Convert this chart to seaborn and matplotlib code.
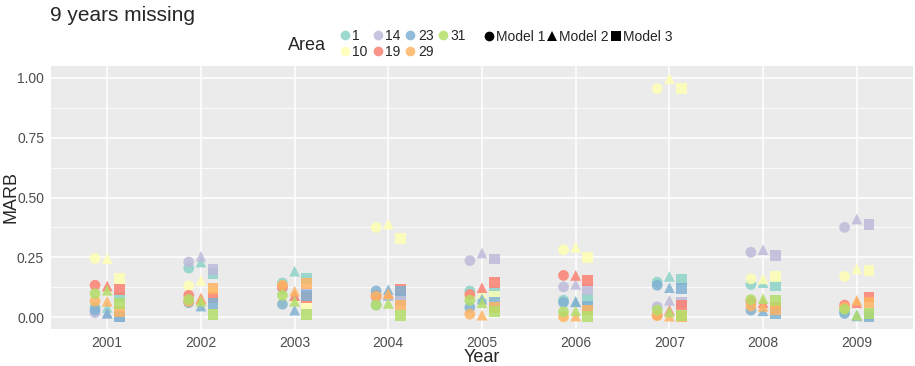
import numpy as np
import pandas as pd
import seaborn as sns
import matplotlib.pyplot as plt
from matplotlib.lines import Line2D

years = [2001, 2002, 2003, 2004, 2005, 2006, 2007, 2008, 2009]
areas = ['1', '10', '14', '19', '23', '29', '31']
models = ['Model 1', 'Model 2', 'Model 3']

# MARB per area, one list per model (values for 2001..2009)
area_1 = [[0.040, 0.205, 0.142, 0.050, 0.109, 0.070, 0.146, 0.136, 0.025],
          [0.040, 0.230, 0.192, 0.090, 0.087, 0.065, 0.170, 0.144, 0.010],
          [0.084, 0.183, 0.160, 0.080, 0.105, 0.073, 0.156, 0.133, 0.010]]
area_10 = [[0.245, 0.130, 0.060, 0.375, 0.090, 0.281, 0.955, 0.160, 0.170],
           [0.245, 0.153, 0.080, 0.389, 0.100, 0.292, 0.997, 0.160, 0.202],
           [0.160, 0.100, 0.057, 0.327, 0.087, 0.248, 0.955, 0.170, 0.195]]
area_14 = [[0.018, 0.230, 0.120, 0.080, 0.236, 0.126, 0.043, 0.271, 0.375],
           [0.015, 0.254, 0.090, 0.090, 0.268, 0.137, 0.070, 0.282, 0.410],
           [0.003, 0.198, 0.100, 0.070, 0.243, 0.115, 0.060, 0.257, 0.386]]
area_19 = [[0.133, 0.091, 0.126, 0.090, 0.094, 0.174, 0.008, 0.065, 0.050],
           [0.130, 0.079, 0.090, 0.100, 0.123, 0.174, 0.029, 0.060, 0.060],
           [0.116, 0.082, 0.082, 0.115, 0.146, 0.154, 0.050, 0.040, 0.084]]
area_23 = [[0.029, 0.060, 0.054, 0.109, 0.040, 0.061, 0.133, 0.029, 0.015],
           [0.017, 0.046, 0.029, 0.115, 0.075, 0.064, 0.123, 0.026, 0.005],
           [0.000, 0.057, 0.090, 0.109, 0.060, 0.046, 0.118, 0.015, 0.000]]
area_29 = [[0.066, 0.065, 0.133, 0.087, 0.012, 0.001, 0.006, 0.046, 0.040],
           [0.066, 0.075, 0.108, 0.098, 0.008, 0.004, 0.004, 0.045, 0.070],
           [0.022, 0.119, 0.140, 0.050, 0.040, 0.029, 0.003, 0.033, 0.060]]
area_31 = [[0.098, 0.073, 0.091, 0.050, 0.070, 0.022, 0.029, 0.073, 0.032],
           [0.112, 0.066, 0.066, 0.057, 0.060, 0.026, 0.022, 0.077, 0.008],
           [0.057, 0.011, 0.011, 0.008, 0.022, 0.001, 0.008, 0.068, 0.015]]

area_values = dict(zip(areas, [area_1, area_10, area_14, area_19, area_23, area_29, area_31]))

rows = []
for area, per_model in area_values.items():
    for m, vals in zip(models, per_model):
        for yr, v in zip(years, vals):
            rows.append({'Year': yr, 'Area': area, 'Model': m, 'MARB': v})
df = pd.DataFrame(rows)

# dodge the three models around each year
dodge = {'Model 1': -0.13, 'Model 2': 0.0, 'Model 3': 0.13}
df['xpos'] = df['Year'].map({y: i for i, y in enumerate(years)}) + df['Model'].map(dodge)

sns.set_theme(style='darkgrid')
plt.rcParams['font.family'] = ['Liberation Sans', 'DejaVu Sans']

palette = dict(zip(areas, sns.color_palette('Set3', 7)))
markers = {'Model 1': 'o', 'Model 2': '^', 'Model 3': 's'}

fig = plt.figure(figsize=(9.15, 3.66), dpi=100)
ax = fig.add_axes([51 / 915, 37 / 366, 862 / 915, 263 / 366])
ax.set_facecolor('#EBEBEB')

sns.scatterplot(data=df, x='xpos', y='MARB', hue='Area', style='Model',
                palette=palette, markers=markers, s=60, alpha=0.85,
                linewidth=0, legend=False, ax=ax)

ax.set_xlim(-0.6, 8.6)
ax.set_ylim(-0.05, 1.05)
ax.set_xticks(range(len(years)))
ax.set_xticklabels([str(y) for y in years])
ax.set_yticks([0, 0.25, 0.5, 0.75, 1.0])
ax.set_yticklabels(['0.00', '0.25', '0.50', '0.75', '1.00'])
ax.set_yticks([0.125, 0.375, 0.625, 0.875], minor=True)
ax.grid(which='major', color='white', linewidth=1.1)
ax.grid(which='minor', axis='y', color='white', linewidth=0.55)
ax.tick_params(axis='both', which='major', labelsize=10, colors='#4D4D4D',
               length=3, width=0.8, pad=2, color='#333333')
ax.tick_params(axis='y', which='minor', length=0)
for sp in ax.spines.values():
    sp.set_visible(False)
ax.set_xlabel('Year', fontsize=13, labelpad=-1)
ax.set_ylabel('')
fig.text(11 / 915, 1 - 197 / 366, 'MARB', fontsize=13, rotation=90,
         ha='center', va='center')

fig.text(50 / 915, 1 - 21 / 366, '9 years missing', fontsize=15)

# Area legend
area_handles = [Line2D([], [], marker='o', linestyle='', markersize=7,
                       markerfacecolor=palette[a], markeredgewidth=0, alpha=0.85)
                for a in areas]
fig.text(288 / 915, 1 - 45 / 366, 'Area', fontsize=13, va='center')
fig.legend(area_handles, areas, loc='center left', ncol=4,
           bbox_to_anchor=(333 / 915, 1 - 44 / 366), frameon=False,
           fontsize=10, handlelength=0.7, handletextpad=0.2,
           columnspacing=0.35, labelspacing=0.15, borderpad=0)

# Model legend
model_handles = [Line2D([], [], marker=markers[m], linestyle='', markersize=7,
                        color='black', markeredgewidth=0) for m in models]
fig.legend(model_handles, models, loc='center left', ncol=3,
           bbox_to_anchor=(477 / 915, 1 - 37 / 366), frameon=False,
           fontsize=10, handlelength=0.7, handletextpad=0.15,
           columnspacing=0.15, borderpad=0)

fig.savefig('out.png', dpi=100)
